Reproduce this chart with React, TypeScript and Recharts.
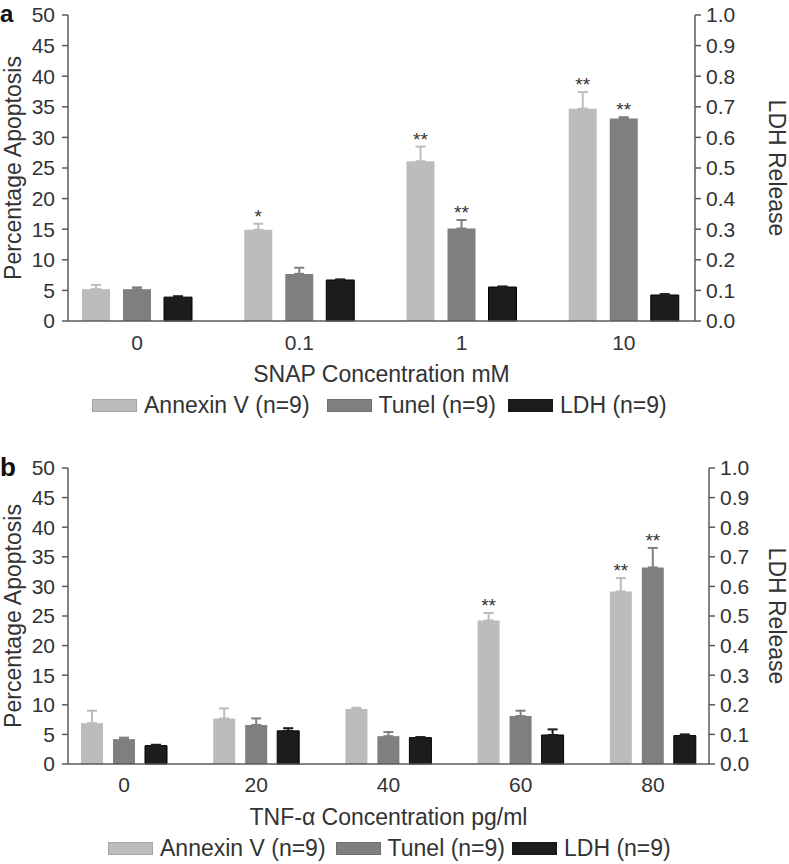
import React from 'react';
import { BarChart, Bar, XAxis, YAxis, ErrorBar, LabelList, Legend } from 'recharts';

const FONT = '"Liberation Sans", Arial, Helvetica, sans-serif';
const TEXT = '#333';
const AXIS = '#5a5a5a';
const ANNEXIN_COLOR = '#bcbcbc';
const TUNEL_COLOR = '#7f7f7f';
const LDH_COLOR = '#1c1c1c';

const seriesNames = ['Annexin V (n=9)', 'Tunel (n=9)', 'LDH (n=9)'];
const seriesColors = [ANNEXIN_COLOR, TUNEL_COLOR, LDH_COLOR];

// panel a - SNAP
const snapConc = ['0', '0.1', '1', '10'];
const snapAnnexin = [5.2, 14.9, 26.1, 34.7];
const snapAnnexinErr = [0.7, 1.0, 2.4, 2.7];
const snapAnnexinSig = ['', '*', '**', '**'];
const snapTunel = [5.2, 7.7, 15.1, 33.1];
const snapTunelErr = [0.3, 1.0, 1.4, 0.2];
const snapTunelSig = ['', '', '**', '**'];
const snapLdh = [0.078, 0.134, 0.111, 0.085];
const snapLdhErr = [0.003, 0.002, 0.002, 0.003];

// panel b - TNF-alpha
const tnfConc = ['0', '20', '40', '60', '80'];
const tnfAnnexin = [6.9, 7.7, 9.3, 24.25, 29.15];
const tnfAnnexinErr = [2.1, 1.7, 0.2, 1.25, 2.25];
const tnfAnnexinSig = ['', '', '', '**', '**'];
const tnfTunel = [4.2, 6.6, 4.7, 8.1, 33.2];
const tnfTunelErr = [0.25, 1.1, 0.7, 0.9, 3.3];
const tnfTunelSig = ['', '', '', '', '**'];
const tnfLdh = [0.062, 0.112, 0.089, 0.098, 0.096];
const tnfLdhErr = [0.003, 0.009, 0.002, 0.019, 0.004];

const leftTicks = [0, 5, 10, 15, 20, 25, 30, 35, 40, 45, 50];
const rightTicks = [0, 0.1, 0.2, 0.3, 0.4, 0.5, 0.6, 0.7, 0.8, 0.9, 1.0];

const buildRows = (
  cats: string[],
  annexin: number[], annexinErr: number[], annexinSig: string[],
  tunel: number[], tunelErr: number[], tunelSig: string[],
  ldh: number[], ldhErr: number[]
) =>
  cats.map((c, i) => ({
    conc: c,
    annexin: annexin[i],
    annexinErr: [0, annexinErr[i]],
    annexinSig: annexinSig[i],
    tunel: tunel[i],
    tunelErr: [0, tunelErr[i]],
    tunelSig: tunelSig[i],
    ldh: ldh[i],
    ldhErr: [0, ldhErr[i]],
  }));

const snapData = buildRows(snapConc, snapAnnexin, snapAnnexinErr, snapAnnexinSig,
  snapTunel, snapTunelErr, snapTunelSig, snapLdh, snapLdhErr);
const tnfData = buildRows(tnfConc, tnfAnnexin, tnfAnnexinErr, tnfAnnexinSig,
  tnfTunel, tnfTunelErr, tnfTunelSig, tnfLdh, tnfLdhErr);

// asterisks sit just above the top of the error bar
const starLabel = (vals: number[], errs: number[]) => (props: any) => {
  const vb = props.viewBox || props;
  const { index, value } = props;
  if (!value) return null;
  const h = Math.abs(vb.height);
  const errPx = (h * errs[index]) / vals[index];
  return (
    <text x={vb.x + vb.width / 2} y={vb.y - errPx - 1} textAnchor="middle" fontSize={19} fill={TEXT}>
      {value}
    </text>
  );
};

// legend keeps the series order (recharts would sort it by name)
const LegendRow = ({ gaps }: { gaps: number[] }) => (
  <div style={{ display: 'flex', alignItems: 'center', height: 26, fontSize: 23, color: TEXT, whiteSpace: 'nowrap' }}>
    {seriesNames.map((name, i) => (
      <div key={name} style={{ display: 'flex', alignItems: 'center', marginRight: gaps[i] }}>
        <div style={{ width: 45, height: 13, background: seriesColors[i], border: '1px solid rgba(0,0,0,0.12)', boxSizing: 'border-box', marginRight: 7 }} />
        <span>{name}</span>
      </div>
    ))}
  </div>
);

interface PanelProps {
  data: any[];
  height: number;
  marginTop: number;
  marginBottom: number;
  rightWidth: number;
  barSize: number;
  barGap: number;
  padLeft: number;
  padRight: number;
  tickMargin: number;
  xTitle: string;
  legendLeft: number;
  legendGaps: number[];
  annexin: number[];
  annexinErr: number[];
  tunel: number[];
  tunelErr: number[];
}

function Panel(p: PanelProps) {
  return (
    <BarChart
      width={789}
      height={p.height}
      data={p.data}
      margin={{ top: p.marginTop, right: 0, bottom: p.marginBottom, left: 0 }}
      barSize={p.barSize}
      barGap={p.barGap}
    >
      <XAxis
        dataKey="conc"
        height={71}
        tickLine={false}
        axisLine={{ stroke: AXIS, strokeWidth: 1.5 }}
        tick={{ fontSize: 21, fill: TEXT }}
        tickMargin={p.tickMargin}
        padding={{ left: p.padLeft, right: p.padRight }}
        label={{
          content: (lp: any) => {
            const vb = lp.viewBox;
            return (
              <text x={vb.x + vb.width / 2} y={vb.y + vb.height - 10} textAnchor="middle" fontSize={23} fill={TEXT}>
                {p.xTitle}
              </text>
            );
          },
        }}
      />
      <YAxis
        yAxisId="left"
        width={68}
        domain={[0, 50]}
        ticks={leftTicks}
        interval={0}
        tickSize={6}
        tickMargin={7}
        axisLine={{ stroke: AXIS, strokeWidth: 1.5 }}
        tickLine={{ stroke: AXIS, strokeWidth: 1.5 }}
        tick={{ fontSize: 21, fill: TEXT }}
        label={{
          content: (lp: any) => {
            const vb = lp.viewBox;
            const cy = vb.y + vb.height / 2;
            return (
              <text x={13} y={cy} transform={`rotate(-90, 13, ${cy})`} textAnchor="middle" dominantBaseline="central" fontSize={23} fill={TEXT}>
                Percentage Apoptosis
              </text>
            );
          },
        }}
      />
      <YAxis
        yAxisId="right"
        orientation="right"
        width={p.rightWidth}
        domain={[0, 1]}
        ticks={rightTicks}
        interval={0}
        tickSize={6}
        tickMargin={5}
        tickFormatter={(v: number) => v.toFixed(1)}
        axisLine={{ stroke: AXIS, strokeWidth: 1.5 }}
        tickLine={{ stroke: AXIS, strokeWidth: 1.5 }}
        tick={{ fontSize: 21, fill: TEXT }}
        label={{
          content: (lp: any) => {
            const vb = lp.viewBox;
            const cy = vb.y + vb.height / 2;
            return (
              <text x={777} y={cy} transform={`rotate(90, 777, ${cy})`} textAnchor="middle" dominantBaseline="central" fontSize={23} fill={TEXT}>
                LDH Release
              </text>
            );
          },
        }}
      />
      <Legend
        verticalAlign="bottom"
        align="left"
        wrapperStyle={{ left: p.legendLeft, width: 700 }}
        content={() => <LegendRow gaps={p.legendGaps} />}
      />
      <Bar yAxisId="left" dataKey="annexin" name={seriesNames[0]} fill={ANNEXIN_COLOR} isAnimationActive={false}>
        <ErrorBar dataKey="annexinErr" width={5} strokeWidth={2} stroke={ANNEXIN_COLOR} direction="y" />
        <LabelList dataKey="annexinSig" content={starLabel(p.annexin, p.annexinErr)} />
      </Bar>
      <Bar yAxisId="left" dataKey="tunel" name={seriesNames[1]} fill={TUNEL_COLOR} isAnimationActive={false}>
        <ErrorBar dataKey="tunelErr" width={5} strokeWidth={2} stroke={TUNEL_COLOR} direction="y" />
        <LabelList dataKey="tunelSig" content={starLabel(p.tunel, p.tunelErr)} />
      </Bar>
      <Bar yAxisId="right" dataKey="ldh" name={seriesNames[2]} fill={LDH_COLOR} stroke="#000" isAnimationActive={false}>
        <ErrorBar dataKey="ldhErr" width={5} strokeWidth={2} stroke={LDH_COLOR} direction="y" />
      </Bar>
    </BarChart>
  );
}

export default function App() {
  return (
    <div style={{ position: 'absolute', left: 0, top: 0, width: 789, height: 864, background: '#fff', fontFamily: FONT }}>
      <div style={{ position: 'absolute', left: 0, top: 0 }}>
        <Panel
          data={snapData}
          height={440}
          marginTop={15}
          marginBottom={22}
          rightWidth={94}
          barSize={28}
          barGap={13}
          padLeft={-12}
          padRight={-10}
          tickMargin={8}
          xTitle="SNAP Concentration mM"
          legendLeft={92}
          legendGaps={[17, 12, 0]}
          annexin={snapAnnexin}
          annexinErr={snapAnnexinErr}
          tunel={snapTunel}
          tunelErr={snapTunelErr}
        />
      </div>
      <div style={{ position: 'absolute', left: 0, top: 440 }}>
        <Panel
          data={tnfData}
          height={424}
          marginTop={28}
          marginBottom={3}
          rightWidth={80}
          barSize={22}
          barGap={10}
          padLeft={-10}
          padRight={-10}
          tickMargin={7}
          xTitle={'TNF-\u03b1 Concentration pg/ml'}
          legendLeft={108}
          legendGaps={[10, 7, 0]}
          annexin={tnfAnnexin}
          annexinErr={tnfAnnexinErr}
          tunel={tnfTunel}
          tunelErr={tnfTunelErr}
        />
      </div>
      <svg width={789} height={864} style={{ position: 'absolute', left: 0, top: 0, pointerEvents: 'none' }}>
        <text x={0} y={22} fontSize={24} fontWeight="bold" fill="#111">a</text>
        <text x={0} y={476} fontSize={26} fontWeight="bold" fill="#111">b</text>
      </svg>
    </div>
  );
}
